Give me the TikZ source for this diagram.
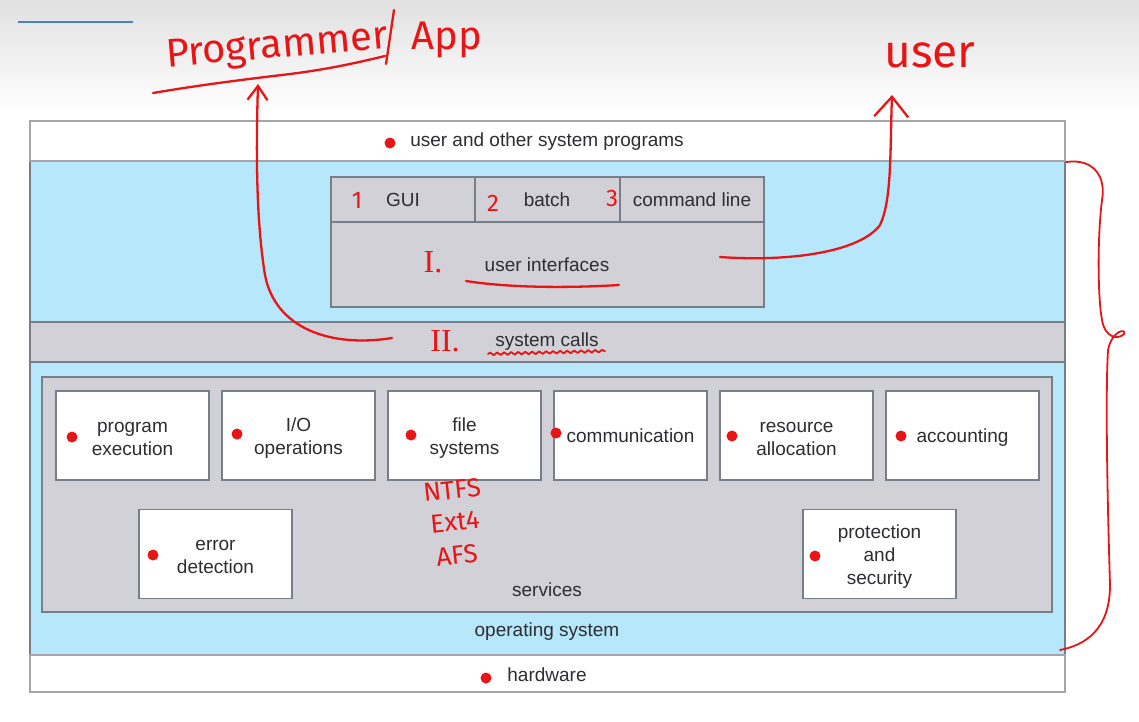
\documentclass[tikz,border=0pt]{standalone}
\usepackage{fontspec}
\setmainfont{Liberation Sans}
\newfontfamily\handfont{Fira Sans}
\newfontfamily\romfont{Liberation Serif}
\usetikzlibrary{arrows.meta,decorations.pathmorphing}
\definecolor{osblue}{RGB}{182,231,250}
\definecolor{boxgray}{RGB}{209,209,215}
\definecolor{edgegray}{RGB}{118,126,138}
\definecolor{outergray}{RGB}{165,165,170}
\definecolor{txtgray}{RGB}{45,45,50}
\definecolor{redink}{RGB}{232,20,22}
\definecolor{topblue}{RGB}{74,130,196}
\tikzset{
  band/.style={draw=edgegray, line width=1.1pt, rectangle, inner sep=0pt},
  svc/.style={draw=edgegray, fill=white, line width=1.1pt, rectangle, inner sep=0pt,
              minimum width=153pt, minimum height=89pt},
  lbl/.style={text=txtgray, font=\fontsize{19}{23}\selectfont, align=center, inner sep=0pt},
  dot/.style={circle, fill=redink, inner sep=0pt, minimum size=11pt},
  ink/.style={draw=redink, line width=2.3pt, line cap=round, line join=round},
  hand/.style={text=redink, font=\handfont\fontsize{40}{40}\selectfont, inner sep=0pt},
  smallhand/.style={text=redink, font=\handfont\fontsize{24}{24}\selectfont, inner sep=0pt},
  fsname/.style={text=redink, font=\handfont\fontsize{26}{26}\selectfont, inner sep=0pt, rotate=6},
  roman/.style={text=redink, font=\romfont\fontsize{32}{32}\selectfont, inner sep=0pt},
  barb/.style={-{Straight Barb[length=20pt,width=34pt,line width=2.3pt]}},
  smallbarb/.style={-{Straight Barb[length=14pt,width=20pt,line width=2.3pt]}}
}
\begin{document}
\begin{tikzpicture}[x=1pt,y=-1pt]
\useasboundingbox (0,0) rectangle (1139,721);
\fill[white] (0,0) rectangle (1139,721);
\shade[top color=black!12, bottom color=white] (0,0) rectangle (1139,112);
\draw[topblue, line width=2.5pt] (18,22) -- (133,22);

% layers
\node[band, draw=outergray, fill=white, minimum width=1035pt, minimum height=571pt] (frame) at (547.5,406.5) {};
\node[band, fill=osblue, minimum width=1035pt, minimum height=494pt] (os) at (547.5,408) {};
\node[band, draw=outergray, fill=white, minimum width=1035pt, minimum height=40pt] (usrband) at (547.5,141) {};
\node[band, draw=outergray, fill=white, minimum width=1035pt, minimum height=37pt] (hwband) at (547.5,673.5) {};
\node[band, fill=boxgray, minimum width=1035pt, minimum height=40pt] (scband) at (547.5,342) {};
\node[band, fill=boxgray, minimum width=433pt, minimum height=130pt] (uibox) at (547.5,242) {};
\node[band, fill=boxgray, minimum width=144pt, minimum height=45pt] (gui) at (403,199.5) {};
\node[band, fill=boxgray, minimum width=145pt, minimum height=45pt] (batch) at (547.5,199.5) {};
\node[band, fill=boxgray, minimum width=144pt, minimum height=45pt] (cmd) at (692,199.5) {};
\node[band, fill=boxgray, minimum width=1010pt, minimum height=235pt] (services) at (547,494.5) {};

% service boxes
\node[svc] (progexec) at (132.5,435.5) {};
\node[svc] (io) at (298.5,435.5) {};
\node[svc] (fs) at (464.5,435.5) {};
\node[svc] (comm) at (630.5,435.5) {};
\node[svc] (res) at (796.5,435.5) {};
\node[svc] (acct) at (962.5,435.5) {};
\node[svc] (err) at (215.5,554) {};
\node[svc] (prot) at (879.5,554) {};

% printed texts
\node[lbl] (tusr) at (547,142) {user and other system programs};
\node[lbl] (tgui) at (403,200) {GUI};
\node[lbl] (tbatch) at (547,200) {batch};
\node[lbl] (tcmd) at (692,200) {command line};
\node[lbl] (tui) at (547,265) {user interfaces};
\node[lbl] (tsc) at (547,342) {system calls};
\node[lbl] at ([yshift=-3pt]progexec.center) {program\\execution};
\node[lbl] at ([yshift=-3pt]io.center) {I/O\\operations};
\node[lbl] at ([yshift=-3pt]fs.center) {file\\systems};
\node[lbl] at (comm) {communication};
\node[lbl] at ([yshift=-3pt]res.center) {resource\\allocation};
\node[lbl] at ([yshift=-2pt]acct.center) {accounting};
\node[lbl] at ([yshift=-3pt]err.center) {error\\detection};
\node[lbl] at ([yshift=-3pt]prot.center) {protection\\and\\security};
\node[lbl] (tserv) at (547,590) {services};
\node[lbl] (tos) at (547,632) {operating system};
\node[lbl] (thw) at (547,675) {hardware};

% red dots
\node[dot] (d1) at (390,143) {};
\node[dot] (d2) at (72,437) {};
\node[dot] (d3) at (237,434) {};
\node[dot] (d4) at (411,435) {};
\node[dot] (d5) at (556,433) {};
\node[dot] (d6) at (732,436) {};
\node[dot] (d7) at (901,436) {};
\node[dot] (d8) at (153,555) {};
\node[dot] (d9) at (815,556) {};
\node[dot] (d10) at (486,678) {};

% handwritten labels
\node[hand, rotate=5] (prog) at (277,48) {Programmer};
\node[hand] (app) at (447,40) {App};
\node[hand, font=\handfont\fontsize{46}{46}\selectfont] (user) at (930,55) {user};
\node[smallhand] (n1) at (357,200) {1};
\node[smallhand] (n2) at (493,203) {2};
\node[smallhand] (n3) at (612,198) {3};
\node[roman] (r1) at (433,262) {I.};
\node[roman] (r2) at (445,341) {II.};
\node[fsname] (ntfs) at (452,490) {NTFS};
\node[fsname] (ext) at (455,522) {Ext4};
\node[fsname] (afs) at (457,555) {AFS};

% ink strokes
\coordinate (ulA) at (153,93);
\coordinate (ulB) at (385,56);
\draw[ink] (ulA) .. controls (200,85) and (240,80) .. (290,74) .. controls (330,69) and (360,62) .. (ulB);
\coordinate (slA) at (394,10);
\coordinate (slB) at (386,64);
\draw[ink] (slA) -- (slB);

\coordinate (uiU1) at (466,281);
\coordinate (uiU2) at (619,285);
\draw[ink] (uiU1) .. controls (510,288) and (570,288) .. (uiU2);
\coordinate (scU1) at (488,354);
\coordinate (scU2) at (605,351);
\draw[ink, line width=1.8pt, decorate, decoration={snake, amplitude=1.3pt, segment length=7pt}] (scU1) -- (scU2);

% arrows
\coordinate (uiStart) at (720,257);
\coordinate (userTip) at (892,95);
\draw[ink, barb] (uiStart) .. controls (790,262) and (860,252) .. (880,225) .. controls (892,200) and (890,150) .. (userTip);
\coordinate (scStart) at (392,338);
\coordinate (progTip) at (258,84);
\draw[ink, smallbarb] (scStart) .. controls (330,348) and (275,328) .. (265,275) .. controls (256,220) and (256,150) .. (progTip);

% brace
\coordinate (brTop) at (1066,162);
\coordinate (brBot) at (1060,650);
\draw[ink, line width=1.8pt] (brTop) .. controls (1095,158) and (1106,178) .. (1102,200)
  .. controls (1097,240) and (1098,300) .. (1102,320)
  .. controls (1105,338) and (1118,340) .. (1124,334)
  .. controls (1127,328) and (1112,330) .. (1108,350)
  .. controls (1105,400) and (1108,520) .. (1110,585)
  .. controls (1110,630) and (1085,645) .. (brBot);
\end{tikzpicture}
\end{document}
